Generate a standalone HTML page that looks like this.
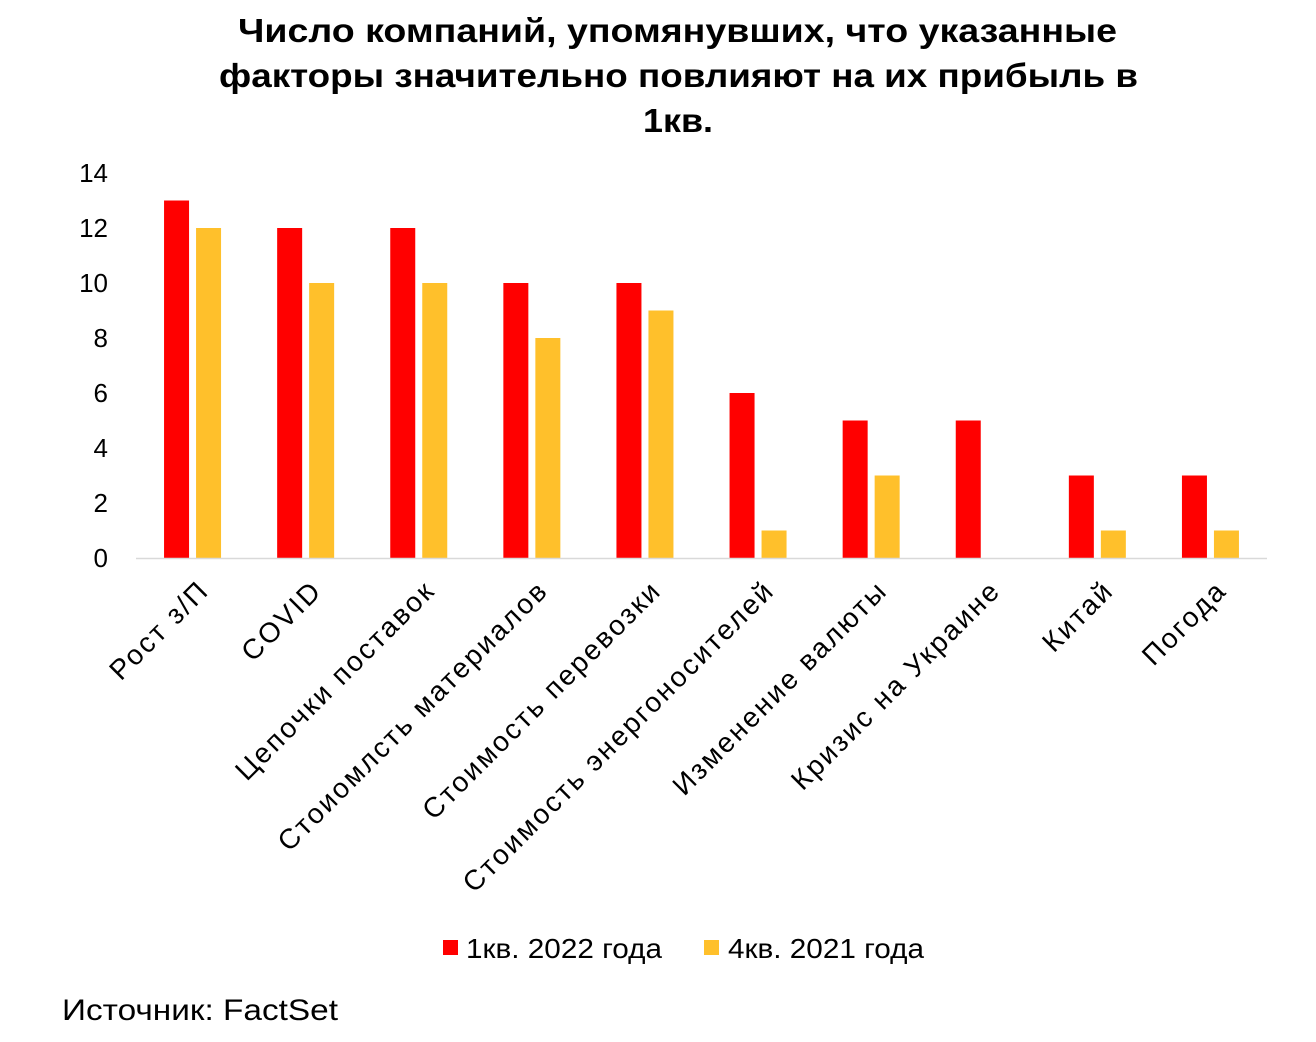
<!DOCTYPE html>
<html><head><meta charset="utf-8"><style>
body{margin:0;background:#fff;}
svg{display:block;font-family:"Liberation Sans",sans-serif;}
</style></head><body>
<svg id="chart" width="1316" height="1042">
<g font-weight="bold" font-size="33" fill="#000">
<text x="238" y="42" textLength="879" lengthAdjust="spacingAndGlyphs">Число компаний, упомянувших, что указанные</text>
<text x="219" y="87" textLength="919" lengthAdjust="spacingAndGlyphs">факторы значительно повлияют на их прибыль в</text>
<text x="643" y="132" textLength="70" lengthAdjust="spacingAndGlyphs">1кв.</text>
</g>
<g id="yaxis"></g>
<g id="bars"></g>
<g id="xaxis"></g>
<g font-size="28" fill="#000">
<rect x="443" y="940" width="15" height="15" fill="#ff0000"/>
<text x="466" y="958" textLength="196" lengthAdjust="spacingAndGlyphs">1кв. 2022 года</text>
<rect x="704" y="940" width="15" height="15" fill="#ffc02b"/>
<text x="728" y="958" textLength="196" lengthAdjust="spacingAndGlyphs">4кв. 2021 года</text>
</g>
<text x="62" y="1020" font-size="30" textLength="276" lengthAdjust="spacingAndGlyphs" fill="#000">Источник: FactSet</text>
</svg>
<script>
const categories=["Рост з/П","COVID","Цепочки поставок","Стоиомлсть материалов","Стоимость перевозки","Стоимость энергоносителей","Изменение валюты","Кризис на Украине","Китай","Погода"];
const q1_2022=[13,12,12,10,10,6,5,5,3,3];
const q4_2021=[12,10,10,8,9,1,3,0,1,1];
const yTicks=[0,2,4,6,8,10,12,14];
const NS="http://www.w3.org/2000/svg";
const x0=136,x1=1267,y0=558,yTop=173,yMax=14;
const band=(x1-x0)/categories.length;
const yS=v=>y0-(v/yMax)*(y0-yTop);
const xC=i=>x0+band*(i+0.5);
function mk(tag,attrs,parent){const e=document.createElementNS(NS,tag);for(const k in attrs)e.setAttribute(k,attrs[k]);parent.appendChild(e);return e;}
const ya=document.getElementById('yaxis'),bars=document.getElementById('bars'),xa=document.getElementById('xaxis');
yTicks.forEach(t=>{const e=mk('text',{x:108,y:yS(t)+9,'text-anchor':'end','font-size':26,fill:'#000'},ya);e.textContent=t;

});
const ax=mk('line',{x1:x0,x2:x1,y1:y0+0.5,y2:y0+0.5,stroke:'#d9d9d9','stroke-width':1.5},xa);


categories.forEach((c,i)=>{
 const cx=xC(i);
 const r=mk('rect',{x:cx-28.5,y:yS(q1_2022[i]),width:25,height:y0-yS(q1_2022[i]),fill:'#ff0000'},bars);
 
 
 const b=mk('rect',{x:cx+3.5,y:yS(q4_2021[i]),width:25,height:y0-yS(q4_2021[i]),fill:'#ffc02b'},bars);
 
 
 const tx=cx+18,ty=592;
 const t=mk('text',{x:tx,y:ty,'text-anchor':'end','font-size':28,'letter-spacing':2.3,fill:'#000',transform:`rotate(-45 ${tx} ${ty})`},xa);
 t.textContent=c;
 
 
});
</script>
</body></html>
